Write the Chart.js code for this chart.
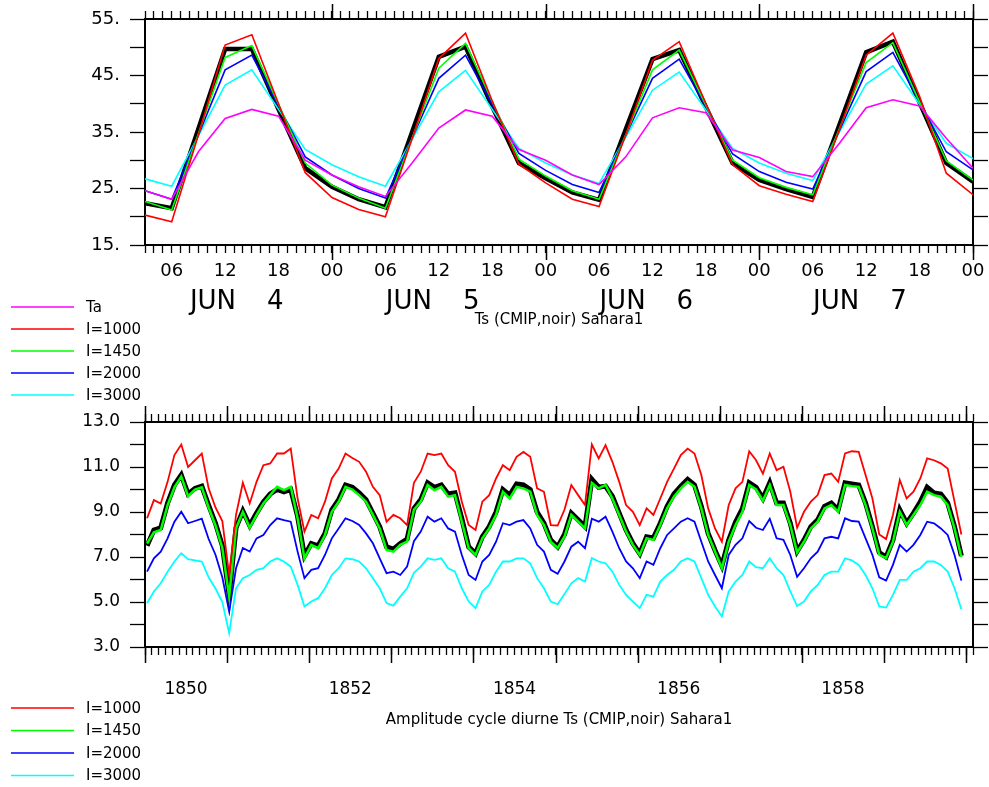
<!DOCTYPE html>
<html>
<head>
<meta charset="utf-8">
<script src="https://cdn.jsdelivr.net/npm/chart.js@4.4.0/dist/chart.umd.min.js"></script>
<style>
  body { margin: 0; background: #fff; width: 989px; height: 787px; overflow: hidden; position: relative; }
  #topChart { position: absolute; left: 0; top: 0; }
  #ampChart { position: absolute; left: 0; top: 400px; }
</style>
</head>
<body>
<canvas id="topChart" width="989" height="400"></canvas>
<canvas id="ampChart" width="989" height="387"></canvas>
<script>
// Surface temperature, 3-hourly, JUN 4 03h -> JUN 8 00h
const topTa    = [24.6, 23.1, 31.5, 37.4, 39.0, 37.8, 30.0, 27.4, 25.3, 23.6, 29.5, 35.7, 38.9, 37.8, 31.9, 30.0,
                  27.4, 25.7, 30.6, 37.5, 39.3, 38.4, 31.8, 30.5, 28.0, 27.1, 33.0, 39.3, 40.7, 39.6, 33.9, 28.6];
const topI1000 = [20.3, 19.1, 34.5, 50.4, 52.2, 40.0, 27.8, 23.4, 21.3, 20.0, 33.8, 48.0, 52.5, 40.5, 29.3, 26.0,
                  23.1, 21.8, 34.5, 47.7, 51.0, 40.0, 29.2, 25.5, 24.0, 22.7, 35.5, 48.6, 52.5, 41.3, 27.7, 23.9];
const topI1450 = [22.7, 21.2, 34.7, 48.2, 50.3, 39.9, 29.5, 25.6, 23.3, 21.5, 33.9, 46.3, 50.7, 40.4, 30.2, 27.2,
                  24.6, 23.1, 34.5, 46.0, 49.5, 39.7, 30.0, 26.9, 25.2, 23.9, 35.6, 47.3, 50.8, 40.3, 29.9, 26.5];
const topI2000 = [24.6, 23.1, 34.5, 46.0, 48.6, 39.6, 30.6, 27.4, 25.0, 23.3, 33.9, 44.5, 48.6, 39.9, 31.2, 28.2,
                  25.7, 24.3, 34.4, 44.5, 47.9, 39.5, 31.1, 28.0, 26.1, 24.9, 35.3, 45.7, 49.1, 40.3, 31.5, 28.3];
const topI3000 = [26.7, 25.4, 34.3, 43.3, 46.0, 39.0, 31.9, 29.2, 27.1, 25.4, 33.7, 42.1, 45.9, 39.0, 32.1, 29.5,
                  27.4, 25.9, 34.1, 42.4, 45.6, 38.9, 32.1, 29.5, 27.7, 26.4, 35.0, 43.5, 46.7, 39.9, 33.0, 30.3];
const topCmip  = [22.4, 21.5, 35.6, 49.7, 49.7, 39.0, 28.6, 25.3, 23.1, 21.7, 35.0, 48.3, 50.1, 39.5, 29.5, 26.8,
                  24.3, 23.0, 35.5, 47.9, 49.5, 39.4, 29.5, 26.5, 24.9, 23.5, 36.3, 49.1, 51.0, 40.2, 29.5, 26.2];
const topStartHour = 3;
const topStepHours = 3;

// Diurnal amplitude of Ts, one value per month, 1850-1859
const ampI1000 = [
  8.72, 9.53, 9.38, 10.34, 11.53, 12.0, 11.0, 11.3, 11.6, 10.05, 9.2, 8.6,
  6.2, 8.87, 10.3, 9.38, 10.34, 11.08, 11.16, 11.6, 11.6, 11.82, 9.6, 8.13,
  8.87, 8.72, 9.46, 10.49, 10.93, 11.6, 11.4, 11.23, 10.79, 10.12, 9.75, 8.57,
  8.87, 8.72, 8.42, 10.3, 10.79, 11.6, 11.53, 11.6, 11.08, 10.79, 9.46, 8.42,
  8.2, 9.46, 9.75, 10.49, 11.08, 10.86, 11.45, 11.67, 11.45, 10.05, 9.9, 8.42,
  8.4, 9.1, 10.2, 9.75, 9.31, 12.0, 11.38, 11.97, 11.23, 10.34, 9.31, 9.01,
  8.42, 9.16, 8.87, 9.6, 10.34, 10.93, 11.53, 11.82, 11.6, 10.64, 9.16, 8.27,
  7.68, 9.31, 10.05, 10.34, 11.7, 11.3, 10.7, 11.6, 10.86, 11.01, 9.9, 8.3,
  9.01, 9.46, 9.75, 10.64, 10.71, 10.34, 11.6, 11.7, 11.67, 10.64, 9.6, 8.0,
  7.8, 8.87, 10.42, 9.6, 9.9, 10.49, 11.38, 11.3, 11.16, 10.93, 9.46, 8.0
];
const ampI1450 = [
  7.6, 8.1, 8.2, 9.3, 10.1, 10.57, 9.7, 10.0, 10.1, 9.2, 8.4, 7.4,
  5.24, 8.27, 9.0, 8.3, 8.87, 9.38, 9.75, 10.12, 9.97, 10.12, 8.72, 6.94,
  7.54, 7.39, 7.98, 9.01, 9.46, 10.12, 10.0, 9.75, 9.46, 8.87, 8.27, 7.31,
  7.24, 7.54, 7.68, 9.1, 9.46, 10.2, 9.97, 10.12, 9.68, 9.75, 8.57, 7.39,
  7.09, 7.83, 8.27, 8.87, 9.9, 9.6, 10.12, 10.05, 9.9, 8.87, 8.42, 7.68,
  7.4, 7.9, 8.87, 8.57, 8.27, 10.3, 10.05, 10.2, 9.6, 8.87, 8.13, 7.54,
  7.09, 7.83, 7.76, 8.42, 9.16, 9.68, 10.05, 10.34, 10.12, 9.16, 7.98, 7.24,
  6.5, 7.68, 8.42, 9.01, 10.2, 10.0, 9.5, 10.2, 9.31, 9.31, 8.42, 7.2,
  7.68, 8.27, 8.57, 9.16, 9.31, 9.01, 10.2, 10.15, 10.12, 9.31, 8.27, 7.1,
  6.95, 7.68, 9.01, 8.42, 8.87, 9.31, 9.9, 9.75, 9.68, 9.31, 8.27, 7.0
];
const ampI2000 = [
  6.35, 6.94, 7.24, 7.83, 8.57, 9.01, 8.5, 8.6, 8.7, 7.8, 7.1, 6.1,
  4.58, 6.5, 7.4, 7.24, 7.83, 7.98, 8.42, 8.72, 8.64, 8.57, 7.24, 6.06,
  6.43, 6.5, 7.09, 7.83, 8.27, 8.72, 8.6, 8.42, 8.05, 7.61, 6.94, 6.28,
  6.35, 6.2, 6.57, 7.7, 8.13, 8.79, 8.57, 8.72, 8.27, 8.13, 7.09, 6.2,
  5.98, 6.8, 7.09, 7.68, 8.5, 8.42, 8.57, 8.64, 8.27, 7.54, 7.24, 6.43,
  6.25, 6.8, 7.46, 7.68, 7.39, 8.7, 8.57, 8.79, 8.13, 7.39, 6.8, 6.5,
  6.06, 6.8, 6.65, 7.39, 7.98, 8.27, 8.57, 8.72, 8.57, 7.68, 6.8, 6.2,
  5.61, 7.09, 7.54, 7.83, 8.6, 8.3, 8.2, 8.7, 7.83, 7.76, 7.09, 6.12,
  6.5, 6.94, 7.24, 7.83, 7.9, 7.83, 8.72, 8.6, 8.57, 7.83, 7.09, 6.1,
  5.95, 6.65, 7.54, 7.24, 7.54, 7.98, 8.57, 8.5, 8.27, 7.98, 7.09, 5.95
];
const ampI3000 = [
  4.95, 5.47, 5.83, 6.35, 6.8, 7.17, 6.9, 6.85, 6.8, 6.1, 5.6, 5.0,
  3.62, 5.61, 6.06, 6.2, 6.43, 6.5, 6.8, 6.94, 6.8, 6.57, 5.76, 4.8,
  5.02, 5.17, 5.61, 6.2, 6.5, 6.94, 6.9, 6.8, 6.5, 6.06, 5.61, 4.95,
  4.84, 5.24, 5.61, 6.3, 6.57, 6.94, 6.87, 6.94, 6.5, 6.35, 5.61, 5.02,
  4.73, 5.47, 5.76, 6.35, 6.8, 6.8, 6.94, 6.94, 6.72, 6.06, 5.61, 5.02,
  4.9, 5.35, 5.83, 6.06, 5.91, 6.95, 6.8, 6.72, 6.35, 5.76, 5.32, 5.02,
  4.73, 5.32, 5.24, 5.91, 6.2, 6.43, 6.8, 6.94, 6.8, 6.06, 5.32, 4.8,
  4.36, 5.47, 5.91, 6.2, 6.8, 6.55, 6.5, 6.94, 6.5, 6.2, 5.47, 4.82,
  5.02, 5.47, 5.76, 6.2, 6.35, 6.35, 6.94, 6.85, 6.65, 6.2, 5.61, 4.8,
  4.75, 5.32, 5.98, 5.98, 6.35, 6.5, 6.8, 6.8, 6.65, 6.35, 5.61, 4.68
];
const ampCmip = [
  7.5, 8.2, 8.3, 9.4, 10.2, 10.65, 9.8, 10.05, 10.15, 9.3, 8.5, 7.5,
  5.3, 8.3, 9.05, 8.4, 8.95, 9.45, 9.8, 10.0, 9.9, 10.0, 8.8, 7.05,
  7.6, 7.5, 8.05, 9.1, 9.55, 10.2, 10.1, 9.85, 9.55, 8.95, 8.35, 7.45,
  7.35, 7.6, 7.8, 9.15, 9.55, 10.3, 10.1, 10.2, 9.8, 9.85, 8.7, 7.45,
  7.15, 7.9, 8.35, 9.0, 10.0, 9.75, 10.25, 10.2, 10.0, 9.0, 8.5, 7.75,
  7.45, 8.0, 8.95, 8.65, 8.35, 10.45, 10.1, 10.15, 9.7, 8.95, 8.2, 7.6,
  7.15, 7.9, 7.85, 8.5, 9.25, 9.8, 10.15, 10.45, 10.2, 9.25, 8.05, 7.3,
  6.6, 7.75, 8.55, 9.15, 10.3, 10.1, 9.6, 10.3, 9.4, 9.4, 8.5, 7.25,
  7.75, 8.35, 8.65, 9.25, 9.4, 9.1, 10.3, 10.25, 10.2, 9.4, 8.35, 7.2,
  7.0, 7.75, 9.1, 8.5, 8.95, 9.45, 10.1, 9.85, 9.8, 9.4, 8.35, 7.05
];
const ampFirstYear = 1850;

const topNames = ['Ta', 'I=1000', 'I=1450', 'I=2000', 'I=3000'];
const ampNames = ['I=1000', 'I=1450', 'I=2000', 'I=3000'];
const dayMonth = 'JUN';
const dayNumbers = ['4', '5', '6', '7'];

const COL = { ta: '#ff00ff', i1000: '#ff0000', i1450: '#00ff00', i2000: '#0000ff', i3000: '#00ffff', cmip: '#000000' };
const FONT = '"DejaVu Sans", sans-serif';

function topPoints(vals) {
  return vals.map((v, i) => ({ x: topStartHour + i * topStepHours, y: v }));
}
function ampPoints(vals) {
  return vals.map((v, i) => ({ x: i + 0.3, y: v }));
}
function line(data, color, width) {
  return { data, borderColor: color, borderWidth: width, pointRadius: 0, tension: 0, fill: false };
}

// axis helpers: outward ticks, no grid in the plot, no extra edge padding
function xAxis(position, min, max, size, tickLen, labels) {
  return {
    type: 'linear', position, min, max,
    afterFit: s => { s.height = size; s.paddingLeft = 0; s.paddingRight = 0; },
    grid: { drawOnChartArea: false, drawTicks: true, tickLength: tickLen, tickColor: '#000', tickWidth: 1.3 },
    border: { display: true, color: '#000', width: 2 },
    ticks: labels
      ? Object.assign({ stepSize: 1, autoSkip: false, maxRotation: 0, maxTicksLimit: 1000, color: '#000' }, labels)
      : { display: false, stepSize: 1, autoSkip: false, maxTicksLimit: 1000 }
  };
}
function yAxis(position, min, max, step, labels) {
  return {
    type: 'linear', position, min, max,
    afterFit: s => { s.width = position === 'left' ? 145 : 16; s.paddingTop = 0; s.paddingBottom = 0; },
    grid: { drawOnChartArea: false, drawTicks: true, tickLength: 15, tickColor: '#000', tickWidth: 1.3 },
    border: { display: true, color: '#000', width: 2 },
    ticks: labels
      ? Object.assign({ stepSize: step, autoSkip: false, color: '#000', padding: 10 }, labels)
      : { display: false, stepSize: step, autoSkip: false }
  };
}

// longer ticks at day / year boundaries on both horizontal edges
function majorTicks(every, len) {
  return {
    id: 'majorTicks',
    afterDraw(chart) {
      const { ctx, chartArea: a, scales: { x } } = chart;
      ctx.save();
      ctx.strokeStyle = '#000';
      ctx.lineWidth = 1.5;
      for (let v = Math.ceil(x.min / every) * every; v <= x.max + 1e-9; v += every) {
        const px = Math.round(x.getPixelForValue(v)) + 0.5;
        ctx.beginPath();
        ctx.moveTo(px, a.bottom); ctx.lineTo(px, a.bottom + len);
        ctx.moveTo(px, a.top); ctx.lineTo(px, a.top - len);
        ctx.stroke();
      }
      ctx.restore();
    }
  };
}

// legend lines down the left margin plus the caption under the plot
function sideLegend(names, colors, firstY, gap, title, titleY) {
  return {
    id: 'sideLegend',
    afterDraw(chart) {
      const { ctx, chartArea: a } = chart;
      ctx.save();
      ctx.textBaseline = 'middle';
      ctx.font = '15px ' + FONT;
      names.forEach((n, i) => {
        const y = firstY + i * gap;
        ctx.strokeStyle = colors[i];
        ctx.lineWidth = 1.5;
        ctx.beginPath(); ctx.moveTo(11, y); ctx.lineTo(74, y); ctx.stroke();
        ctx.fillStyle = '#000';
        ctx.textAlign = 'left';
        ctx.fillText(n, 86, y + 1);
      });
      ctx.textAlign = 'center';
      ctx.font = '15px ' + FONT;
      ctx.fillText(title, (a.left + a.right) / 2, titleY);
      ctx.restore();
    }
  };
}

// "JUN  n" under each day, placed by hour on the x scale
const dayLabels = {
  id: 'dayLabels',
  afterDraw(chart) {
    const { ctx, scales: { x } } = chart;
    const centreHours = [13, 35, 59, 83];
    ctx.save();
    ctx.fillStyle = '#000';
    ctx.font = '26px ' + FONT;
    ctx.textBaseline = 'alphabetic';
    dayNumbers.forEach((d, i) => {
      const cx = x.getPixelForValue(centreHours[i]);
      ctx.textAlign = 'right';
      ctx.fillText(dayMonth, cx + 2, 309);
      ctx.textAlign = 'left';
      ctx.fillText(d, cx + 33, 309);
    });
    ctx.restore();
  }
};

const common = {
  responsive: false,
  animation: false,
  layout: { padding: 0 },
  plugins: { legend: { display: false }, tooltip: { enabled: false } },
  elements: { point: { radius: 0 }, line: { tension: 0 } }
};

new Chart(document.getElementById('topChart'), {
  type: 'line',
  data: {
    datasets: [
      line(topPoints(topTa), COL.ta, 1.6),
      line(topPoints(topI1000), COL.i1000, 1.6),
      line(topPoints(topI1450), COL.i1450, 1.6),
      line(topPoints(topI2000), COL.i2000, 1.6),
      line(topPoints(topI3000), COL.i3000, 1.6),
      line(topPoints(topCmip), COL.cmip, 4.5)
    ]
  },
  options: Object.assign({}, common, {
    scales: {
      x: xAxis('bottom', 3, 96, 155, 8, {
        padding: 8,
        font: { family: FONT, size: 18 },
        callback: v => (v % 6 === 0 ? String(v % 24).padStart(2, '0') : '')
      }),
      xTop: xAxis('top', 3, 96, 19, 8, null),
      y: yAxis('left', 15, 55, 5, {
        font: { family: FONT, size: 18 },
        callback: v => ((v - 15) % 10 === 0 ? v + '.' : '')
      }),
      yRight: yAxis('right', 15, 55, 5, null)
    }
  }),
  plugins: [
    majorTicks(24, 15),
    dayLabels,
    sideLegend(topNames, [COL.ta, COL.i1000, COL.i1450, COL.i2000, COL.i3000], 307, 22,
      'Ts (CMIP,noir) Sahara1', 320)
  ]
});

new Chart(document.getElementById('ampChart'), {
  type: 'line',
  data: {
    datasets: [
      line(ampPoints(ampI1000), COL.i1000, 1.8),
      line(ampPoints(ampI1450), COL.i1450, 2.5),
      line(ampPoints(ampI2000), COL.i2000, 1.8),
      line(ampPoints(ampI3000), COL.i3000, 1.8),
      line(ampPoints(ampCmip), COL.cmip, 5)
    ]
  },
  options: Object.assign({}, common, {
    scales: {
      x: xAxis('bottom', 0, 121, 140, 8, {
        padding: 24,
        font: { family: FONT, size: 17 },
        callback: v => (v % 24 === 6 ? String(ampFirstYear + (v - 6) / 12) : '')
      }),
      xTop: xAxis('top', 0, 121, 22, 8, null),
      y: yAxis('left', 3, 13, 1, {
        font: { family: FONT, size: 17 },
        callback: v => ((v - 3) % 2 === 0 ? v.toFixed(1) : '')
      }),
      yRight: yAxis('right', 3, 13, 1, null)
    }
  }),
  plugins: [
    majorTicks(12, 16),
    sideLegend(ampNames, [COL.i1000, COL.i1450, COL.i2000, COL.i3000], 308, 22.5,
      'Amplitude cycle diurne Ts (CMIP,noir) Sahara1', 320)
  ]
});
</script>
</body>
</html>
